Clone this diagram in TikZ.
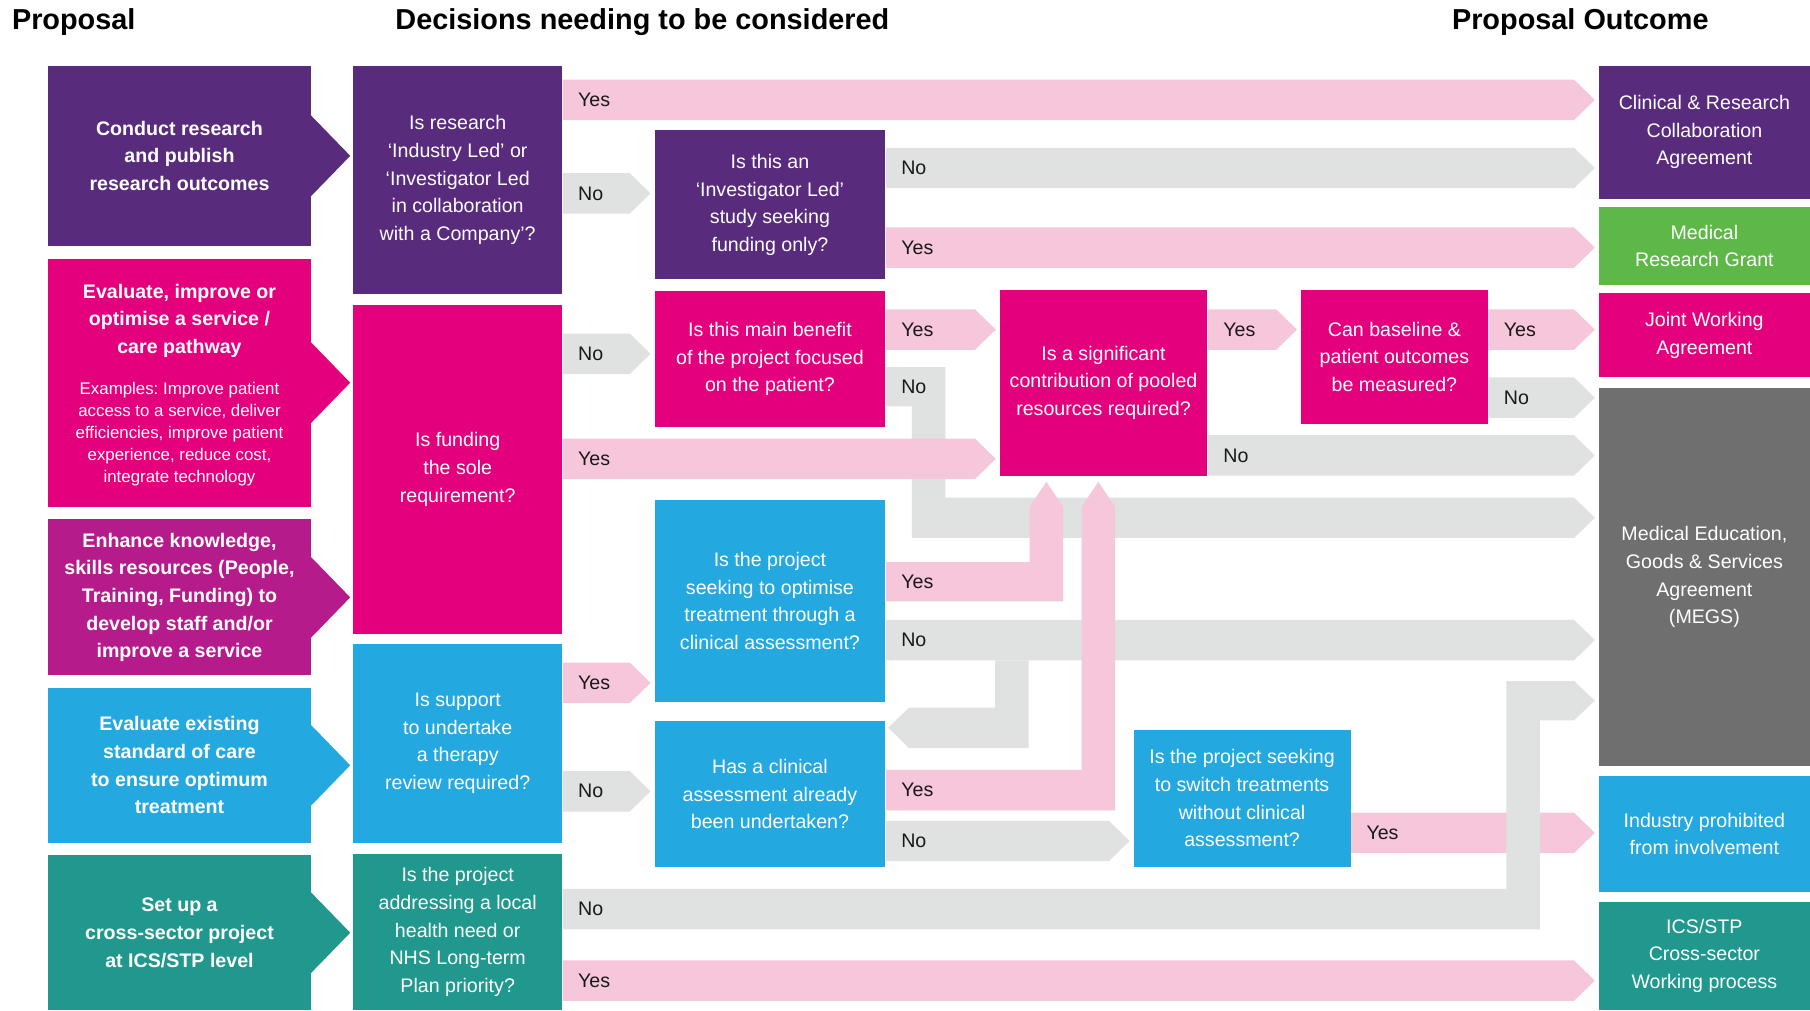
\documentclass[tikz,border=0pt]{standalone}
\usepackage{fontspec}
\setmainfont{Liberation Sans}
\usetikzlibrary{calc}
\frenchspacing

\definecolor{cpurple}{RGB}{88,43,125}
\definecolor{cmagenta}{RGB}{228,0,125}
\definecolor{cplum}{RGB}{182,27,140}
\definecolor{ccyan}{RGB}{36,168,224}
\definecolor{cteal}{RGB}{32,152,141}
\definecolor{cgreen}{RGB}{94,184,72}
\definecolor{cdgrey}{RGB}{111,111,111}
\definecolor{cpink}{RGB}{246,198,219}
\definecolor{clgrey}{RGB}{224,225,225}

\tikzset{
  box/.style={fill=#1, inner sep=0pt, text=white, align=center,
    font=\fontsize{8.5pt}{12pt}\selectfont},
  prop/.style={box=#1, minimum width=113.5pt,
    font=\fontsize{8.5pt}{12pt}\selectfont\bfseries},
  dec/.style={box=#1, minimum width=90.5pt},
  outc/.style={box=#1, minimum width=91.5pt},
  title/.style={inner sep=0pt, font=\fontsize{12.5pt}{15pt}\selectfont\bfseries},
  lbl/.style={anchor=west, inner sep=0pt, text=black!90,
    font=\fontsize{8.5pt}{12pt}\selectfont},
  yesband/.style={fill=cpink},
  noband/.style={fill=clgrey},
}

% band arrow: style, from node, to node, top y, label name, label text
\newcommand{\hband}[6]{%
  \fill[#1] (#2.east |- 0,#4) -- ($(#3.west |- 0,#4)+(-21,0)$)
    -- ($(#3.west |- 0,#4)+(-3,17.5)$) -- ($(#3.west |- 0,#4)+(-21,35)$)
    -- (#2.east |- 0,#4+35) -- cycle;
  \node[lbl] (#5) at ($(#2.east |- 0,#4)+(13,17.5)$) {#6};
}

\begin{document}
\begin{tikzpicture}[x=0.5pt, y=-0.5pt]
\useasboundingbox (0,0) rectangle (1568,875);

\node[title, anchor=west] (t1) at (10,19) {Proposal};
\node[title] (t2) at (556.5,19) {Decisions needing to be considered};
\node[title] (t3) at (1369,19) {Proposal Outcome};

% proposals
\node[prop=cpurple, minimum height=78pt] (p1) at (155.5,135) {Conduct research\\and publish\\research outcomes};
\node[prop=cmagenta, minimum height=107.5pt] (p2) at (155.5,331.5) {};
\node[prop=cmagenta, fill=none] (p2a) at (p2.center |- 0,278) {Evaluate, improve or\\optimise a service /\\care pathway};
\node[box=none, font=\fontsize{7.3pt}{9.5pt}\selectfont] (p2b) at (p2.center |- 0,376) {Examples: Improve patient\\access to a service, deliver\\efficiencies, improve patient\\experience, reduce cost,\\integrate technology};
\node[prop=cplum, minimum height=67.5pt] (p3) at (155.5,517.5) {Enhance knowledge,\\skills resources (People,\\Training, Funding) to\\develop staff and/or\\improve a service};
\node[prop=ccyan, minimum height=67pt] (p4) at (155.5,663) {Evaluate existing\\standard of care\\to ensure optimum\\treatment};
\node[prop=cteal, minimum height=67pt] (p5) at (155.5,808) {Set up a\\cross-sector project\\at ICS/STP level};
\fill[cpurple] ($(p1.east)+(0,-35)$) -- ($(p1.east)+(34,0)$) -- ($(p1.east)+(0,35)$) -- cycle;
\fill[cmagenta] ($(p2.east)+(0,-35)$) -- ($(p2.east)+(34,0)$) -- ($(p2.east)+(0,35)$) -- cycle;
\fill[cplum] ($(p3.east)+(0,-35)$) -- ($(p3.east)+(34,0)$) -- ($(p3.east)+(0,35)$) -- cycle;
\fill[ccyan] ($(p4.east)+(0,-35)$) -- ($(p4.east)+(34,0)$) -- ($(p4.east)+(0,35)$) -- cycle;
\fill[cteal] ($(p5.east)+(0,-35)$) -- ($(p5.east)+(34,0)$) -- ($(p5.east)+(0,35)$) -- cycle;

% decisions
\node[dec=cpurple, minimum height=99pt] (d1) at (396.5,156) {Is research\\`Industry Led' or\\`Investigator Led\\in collaboration\\with a Company'?};
\node[dec=cmagenta, minimum height=142.5pt] (d2) at (396.5,406.5) {Is funding\\the sole\\requirement?};
\node[dec=ccyan, minimum height=86pt] (d3) at (396.5,644) {Is support\\to undertake\\a therapy\\review required?};
\node[dec=cteal, minimum height=67.5pt] (d4) at (396.5,807.5) {Is the project\\addressing a local\\health need or\\NHS Long-term\\Plan priority?};

\node[box=cpurple, minimum width=100pt, minimum height=64.5pt] (q1) at (667,177.5) {Is this an\\`Investigator Led'\\study seeking\\funding only?};
\node[box=cmagenta, minimum width=100pt, minimum height=59pt] (q2) at (667,311) {Is this main benefit\\of the project focused\\on the patient?};
\node[box=ccyan, minimum width=100pt, minimum height=87.5pt] (q3) at (667,520.5) {Is the project\\seeking to optimise\\treatment through a\\clinical assessment?};
\node[box=ccyan, minimum width=100pt, minimum height=63pt] (q4) at (667,688) {Has a clinical\\assessment already\\been undertaken?};
\node[box=cmagenta, minimum width=90pt, minimum height=80.5pt] (q5) at (956,331.5) {Is a significant\\contribution of pooled\\resources required?};
\node[box=cmagenta, minimum width=81pt, minimum height=58pt] (q6) at (1208,309) {Can baseline \&\\patient outcomes\\be measured?};
\node[box=ccyan, minimum width=94pt, minimum height=59.5pt] (q7) at (1076,691.5) {Is the project seeking\\to switch treatments\\without clinical\\assessment?};

% outcomes
\node[outc=cpurple, minimum height=57.5pt] (o1) at (1476.5,114.5) {Clinical \& Research\\Collaboration\\Agreement};
\node[outc=cgreen, minimum height=34pt] (o2) at (1476.5,213) {Medical\\Research Grant};
\node[outc=cmagenta, minimum height=36.5pt] (o3) at (1476.5,290.5) {Joint Working\\Agreement};
\node[outc=cdgrey, minimum height=164pt] (o4) at (1476.5,500) {Medical Education,\\Goods \& Services\\Agreement\\(MEGS)};
\node[outc=ccyan, minimum height=50.5pt] (o5) at (1476.5,722.5) {Industry prohibited\\from involvement};
\node[outc=cteal, minimum height=47pt] (o6) at (1476.5,828) {ICS/STP\\Cross-sector\\Working process};

% no bands
\hband{noband}{d1}{q1}{150}{l2}{No}
\hband{noband}{q1}{o1}{128}{l3}{No}
\hband{noband}{d2}{q2}{289}{l5}{No}
\fill[noband] (q2.east |- 0,318) -- (819,318) -- (819,431) -- ($(o4.west |- 0,431)+(-21,0)$)
  -- ($(o4.west |- 0,448.5)+(-3,0)$) -- ($(o4.west |- 0,466)+(-21,0)$) -- (790,466)
  -- (790,352) -- (q2.east |- 0,352) -- cycle;
\node[lbl] (l7) at ($(q2.east |- 0,335)+(13,0)$) {No};
\hband{noband}{q5}{o4}{377}{l10}{No}
\hband{noband}{q6}{o4}{327}{l12}{No}
\hband{noband}{q3}{o4}{537}{l14}{No}
\fill[noband] (862,572) -- (891,572) -- (891,648) -- ($(q3.east |- 0,648)+(20,0)$)
  -- ($(q3.east |- 0,630.5)+(2,0)$) -- ($(q3.east |- 0,613)+(20,0)$) -- (862,613) -- cycle;
\hband{noband}{q4}{q7}{711}{l16}{No}
\hband{noband}{d3}{q4}{668}{l21}{No}

% yes bands
\hband{yesband}{d1}{o1}{69}{l1}{Yes}
\hband{yesband}{q1}{o2}{197}{l4}{Yes}
\hband{yesband}{q2}{q5}{268}{l6}{Yes}
\hband{yesband}{d2}{q5}{380}{l8}{Yes}
\hband{yesband}{q5}{q6}{268}{l9}{Yes}
\hband{yesband}{q6}{o3}{268}{l11}{Yes}
\fill[yesband] (q3.east |- 0,487) -- (892,487) -- (892,439) -- ($(q5.south -| 906.5,0)+(0,5)$)
  -- (921,439) -- (921,521) -- (q3.east |- 0,521) -- cycle;
\node[lbl] (l13) at ($(q3.east |- 0,504)+(13,0)$) {Yes};
\fill[yesband] (q4.east |- 0,667) -- (937,667) -- (937,439) -- ($(q5.south -| 951.5,0)+(0,5)$)
  -- (966,439) -- (966,702) -- (q4.east |- 0,702) -- cycle;
\node[lbl] (l15) at ($(q4.east |- 0,684.5)+(13,0)$) {Yes};
\hband{yesband}{q7}{o5}{704}{l17}{Yes}
\hband{yesband}{d4}{o6}{832}{l19}{Yes}
\hband{yesband}{d3}{q3}{574}{l20}{Yes}

% no band from local need, drawn over the yes band
\fill[noband] (d4.east |- 0,770) -- (1305,770) -- (1305,590) -- ($(o4.west |- 0,590)+(-21,0)$)
  -- ($(o4.west |- 0,607)+(-3,0)$) -- ($(o4.west |- 0,624)+(-21,0)$) -- (1334,624)
  -- (1334,805) -- (d4.east |- 0,805) -- cycle;
\node[lbl] (l18) at ($(d4.east |- 0,787.5)+(13,0)$) {No};
\end{tikzpicture}
\end{document}
